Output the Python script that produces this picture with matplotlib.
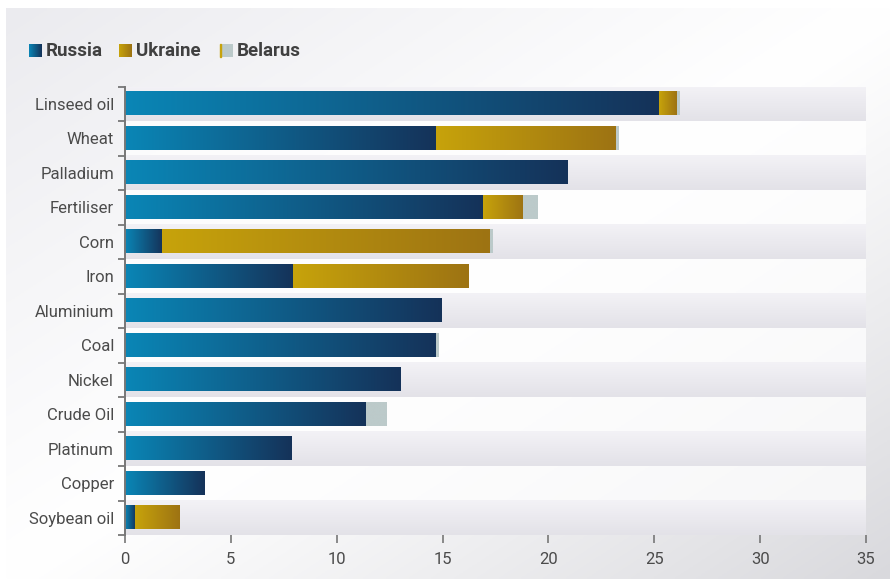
import numpy as np
import matplotlib
matplotlib.use("Agg")
from matplotlib import pyplot as plt
from matplotlib.colors import LinearSegmentedColormap

# data (top row first)
categories = ["Linseed oil", "Wheat", "Palladium", "Fertiliser", "Corn", "Iron", "Aluminium",
              "Coal", "Nickel", "Crude Oil", "Platinum", "Copper", "Soybean oil"]
russia = [25.2, 14.7, 20.9, 16.9, 1.75, 7.95, 14.95, 14.7, 13.0, 11.4, 7.85, 3.75, 0.48]
ukraine = [0.85, 8.5, 0, 1.9, 15.5, 8.3, 0, 0, 0, 0, 0, 0, 2.12]
belarus = [0.12, 0.12, 0, 0.7, 0.12, 0, 0, 0.1, 0, 0.95, 0, 0, 0]
series_names = ["Russia", "Ukraine", "Belarus"]
xticks = [0, 5, 10, 15, 20, 25, 30, 35]

plt.rcParams['font.family'] = ['Roboto', 'DejaVu Sans']

cmap_ru = LinearSegmentedColormap.from_list("ru", ["#0a86b6", "#153259"])
cmap_ua = LinearSegmentedColormap.from_list("ua", ["#c7a30b", "#9d7313"])
cmap_by = LinearSegmentedColormap.from_list("by", ["#bccaca", "#bccaca"])
cmap_band = LinearSegmentedColormap.from_list("band", ["#f3f2f6", "#e3e2e8"])
grad_h = np.linspace(0, 1, 256).reshape(1, -1)
grad_v = np.linspace(0, 1, 64).reshape(-1, 1)

fig = plt.figure(figsize=(8.9, 5.79), dpi=100)

# background panel with a diagonal gradient
bg = fig.add_axes([6/890, 0, 1 - 6/890, 1 - 8/579], zorder=-5)
u, v = np.meshgrid(np.linspace(0, 1, 300), np.linspace(0, 1, 200))
s = u + v - 1
shade = np.where(s < 0, 255 - 20*np.abs(s)**1.1, 255 - 38*np.abs(s)**1.1)
img = np.stack([shade, shade, shade + 4*np.abs(s)], axis=-1).clip(0, 255) / 255
bg.imshow(img, aspect="auto", extent=(0, 1, 1, 0))
bg.axis("off")

ax = fig.add_axes([125/890, 1 - 535/579, 741/890, 448.5/579])
ax.patch.set_alpha(0)
y = np.arange(len(categories))

# alternating row bands
bands = ax.barh(y, [35]*len(y), height=1.0, left=0, color="none", zorder=0)
for i, b in enumerate(bands):
    x0, y0, w, h = b.get_x(), b.get_y(), b.get_width(), b.get_height()
    if i % 2 == 0:
        ax.imshow(grad_v, cmap=cmap_band, aspect="auto", extent=(x0, x0+w, y0+h, y0), zorder=0.5)
    else:
        b.set_facecolor((1, 1, 1, 0.75))

# stacked bars, each segment gets its own left-to-right gradient
lefts = np.zeros(len(y))
for vals, cm in zip([russia, ukraine, belarus], [cmap_ru, cmap_ua, cmap_by]):
    bars = ax.barh(y, vals, height=0.67, left=lefts, color="none", zorder=2)
    for b in bars:
        if b.get_width() <= 0:
            continue
        x0, y0, w, h = b.get_x(), b.get_y(), b.get_width(), b.get_height()
        ax.imshow(grad_h, cmap=cm, aspect="auto", extent=(x0, x0+w, y0+h, y0), zorder=2)
    lefts = lefts + np.array(vals)

ax.set_xlim(0, 35)
ax.set_ylim(len(y) - 0.5, -0.5)
ax.set_yticks(y)
ax.set_yticklabels(categories)
ax.set_yticks(np.arange(len(y) + 1) - 0.5, minor=True)
ax.set_xticks(xticks)
ax.tick_params(axis="y", which="major", length=0, pad=8, labelsize=12, labelcolor="#4b4b4b")
ax.tick_params(axis="y", which="minor", length=5, width=1.3, color="#777777", direction="out")
ax.tick_params(axis="x", length=6, width=1.2, color="#777777", pad=6, labelsize=12, labelcolor="#4b4b4b")
for side in ["top", "right", "bottom"]:
    ax.spines[side].set_visible(False)
ax.spines["left"].set_color("#777777")
ax.spines["left"].set_linewidth(1.4)

# legend: gradient squares plus bold labels
leg_x = [29, 119, 220]
text_x = [46, 136, 237]
for name, cm, lx, tx in zip(series_names, [cmap_ru, cmap_ua, cmap_by], leg_x, text_x):
    m = fig.add_axes([lx/890, 1 - 57/579, 13/890, 13/579])
    m.imshow(grad_h, cmap=cm, aspect="auto")
    m.axis("off")
    fig.text(tx/890, 1 - 51/579, name, fontsize=13.5, fontweight="bold", color="#404040", va="center")
# thin gold edge on the Belarus marker
fig.patches.append(plt.Rectangle((220/890, 1 - 57/579), 1.2/890, 13/579, transform=fig.transFigure,
                                 color="#c7a30b", zorder=5))

fig.savefig("out.png", dpi=100)
